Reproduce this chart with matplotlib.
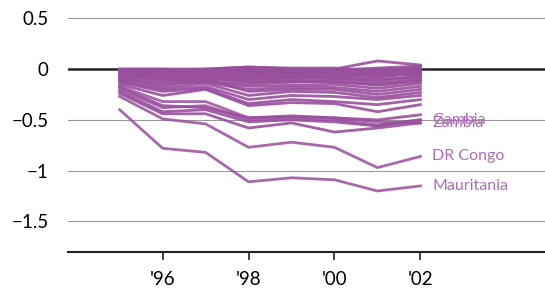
import numpy as np
import matplotlib
matplotlib.use('agg')
import matplotlib.pyplot as plt

years = np.arange(1995, 2003)
xtick_years = [1996, 1998, 2000, 2002]
xtick_labels = ["'96", "'98", "'00", "'02"]

# unlabelled countries (upper cluster)
others = [
    [0.00, 0.00, 0.00, 0.02, 0.00, 0.00, 0.08, 0.04],
    [-0.01, -0.01, 0.00, 0.02, 0.01, 0.01, -0.02, 0.02],
    [0.00, 0.00, -0.01, 0.00, 0.00, -0.01, 0.01, 0.03],
    [-0.01, -0.02, -0.01, -0.02, -0.01, 0.00, -0.01, 0.01],
    [-0.02, -0.03, -0.02, -0.01, -0.02, -0.01, 0.00, 0.00],
    [-0.01, -0.01, -0.03, -0.04, -0.02, -0.02, -0.04, -0.01],
    [-0.03, -0.02, -0.04, -0.03, -0.03, -0.04, -0.03, -0.02],
    [-0.02, -0.04, -0.03, -0.06, -0.05, -0.03, -0.07, -0.03],
    [-0.02, -0.05, -0.05, -0.05, -0.04, -0.04, -0.06, -0.05],
    [-0.03, -0.04, -0.06, -0.07, -0.07, -0.06, -0.08, -0.04],
    [-0.04, -0.06, -0.06, -0.08, -0.06, -0.07, -0.05, -0.06],
    [-0.04, -0.07, -0.07, -0.09, -0.08, -0.09, -0.11, -0.07],
    [-0.05, -0.08, -0.08, -0.10, -0.09, -0.08, -0.10, -0.08],
    [-0.06, -0.09, -0.09, -0.12, -0.11, -0.10, -0.13, -0.10],
    [-0.05, -0.10, -0.08, -0.13, -0.12, -0.13, -0.15, -0.11],
    [-0.07, -0.10, -0.11, -0.15, -0.13, -0.12, -0.16, -0.12],
    [-0.08, -0.12, -0.12, -0.17, -0.16, -0.15, -0.19, -0.14],
    [-0.10, -0.14, -0.13, -0.20, -0.18, -0.18, -0.22, -0.17],
    [-0.09, -0.16, -0.10, -0.22, -0.20, -0.20, -0.25, -0.20],
    [-0.11, -0.18, -0.14, -0.26, -0.22, -0.23, -0.28, -0.23],
    [-0.12, -0.20, -0.17, -0.30, -0.26, -0.27, -0.30, -0.26],
    [-0.13, -0.22, -0.19, -0.34, -0.30, -0.32, -0.35, -0.30],
    [-0.15, -0.26, -0.20, -0.36, -0.33, -0.34, -0.42, -0.35],
    [-0.22, -0.42, -0.40, -0.52, -0.50, -0.52, -0.56, -0.50],
    [-0.24, -0.44, -0.44, -0.58, -0.53, -0.62, -0.58, -0.53],
    [-0.18, -0.36, -0.38, -0.48, -0.47, -0.48, -0.50, -0.45],
]
gambia = [-0.20, -0.38, -0.36, -0.50, -0.48, -0.50, -0.55, -0.50]
zambia = [-0.17, -0.32, -0.32, -0.48, -0.46, -0.48, -0.52, -0.53]
dr_congo = [-0.27, -0.49, -0.54, -0.77, -0.72, -0.77, -0.97, -0.86]
mauritania = [-0.40, -0.78, -0.82, -1.11, -1.07, -1.09, -1.20, -1.15]

labelled = {"Gambia": gambia, "Zambia": zambia,
            "DR Congo": dr_congo, "Mauritania": mauritania}

line_col = '#994f9e'
label_col = '#b06cb8'

plt.rcParams['font.family'] = ['Lato', 'DejaVu Sans']

fig = plt.figure(figsize=(5.45, 3.01), dpi=100)
ax = fig.add_axes([0.125, 0.163, 0.875, 0.81])

for yv in [0.5, -0.5, -1, -1.5]:
    ax.axhline(yv, color='#999999', lw=0.8, zorder=1)
ax.axhline(0, color='#222222', lw=1.8, zorder=1)

for s in others:
    ax.plot(years, s, color=line_col, lw=2, alpha=0.9, zorder=2)
for name, s in labelled.items():
    ax.plot(years, s, color=line_col, lw=2, alpha=0.85, zorder=2)
    ax.text(years[-1] + 0.28, s[-1], name, color=label_col, fontsize=11.5,
            va='center', ha='left')

ax.set_xlim(1993.8, 2004.9)
ax.set_ylim(-1.8, 0.6)
ax.set_yticks([0.5, 0, -0.5, -1, -1.5])
ax.set_yticklabels(['0.5', '0', '\u22120.5', '\u22121', '\u22121.5'])
ax.set_xticks(xtick_years)
ax.set_xticklabels(xtick_labels)
ax.tick_params(axis='y', length=0, pad=14, labelsize=13.5)
ax.tick_params(axis='x', length=6, width=1.2, pad=8, labelsize=13.5, color='#222222')
for sp in ['left', 'right', 'top']:
    ax.spines[sp].set_visible(False)
ax.spines['bottom'].set_linewidth(1.5)
ax.spines['bottom'].set_color('#222222')

fig.savefig('out.png', dpi=100)
